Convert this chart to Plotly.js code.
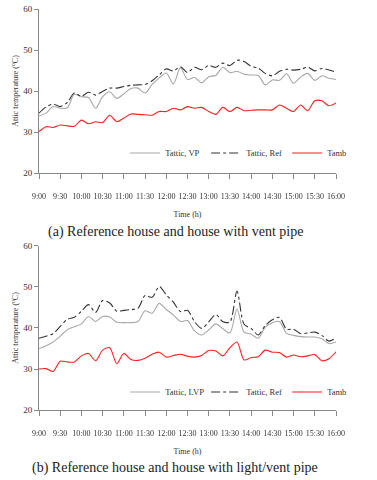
<!DOCTYPE html>
<html>
<head>
<meta charset="utf-8">
<script src="https://cdn.plot.ly/plotly-3.0.1.min.js"></script>
<style>
  html, body { margin: 0; padding: 0; background: #fff; }
  #chart { width: 377px; height: 480px; }
  /* keep small tick text grey (no coloured subpixel fringes) */
  #chart .xtick text, #chart .x2tick text { filter: grayscale(100%); }
</style>
</head>
<body>
<div id="chart"></div>
<script>
// sample times, every 10 minutes
var times = ['9:00','9:10','9:20','9:30','9:40','9:50','10:00','10:10','10:20','10:30','10:40','10:50',
  '11:00','11:10','11:20','11:30','11:40','11:50','12:00','12:10','12:20','12:30','12:40','12:50',
  '13:00','13:10','13:20','13:30','13:40','13:50','14:00','14:10','14:20','14:30','14:40','14:50',
  '15:00','15:10','15:20','15:30','15:40','15:50','16:00'];

var tickLabels = ['9:00','9:30','10:00','10:30','11:00','11:30','12:00','12:30','13:00','13:30',
  '14:00','14:30','15:00','15:30','16:00'];

// (a) reference house vs house with vent pipe
var atticVP = [33.9,34.6,36.2,35.8,35.9,39.2,38.6,38.4,35.8,38.6,39.8,38.2,39.3,40.6,40.7,39.5,
  41.6,43.2,44.4,41.7,45.7,42.8,43.3,42.0,43.5,43.8,45.8,44.5,44.8,44.1,43.9,43.8,41.5,42.7,42.6,
  44.2,41.9,43.4,44.3,42.6,43.7,43.1,42.8];
var atticRefA = [34.6,36.1,36.8,36.2,37.2,39.5,38.7,39.7,39.0,39.9,40.7,40.7,41.1,41.4,41.5,41.6,
  42.5,43.9,45.4,44.9,45.9,44.5,45.8,45.2,46.2,45.8,46.8,46.2,47.5,47.2,46.0,45.6,44.3,43.7,44.8,
  45.3,45.1,45.3,45.8,44.9,45.5,45.1,44.6];
var ambA = [30.1,31.3,31.1,31.7,31.5,31.4,32.9,32.0,32.5,32.3,34.1,32.5,33.4,34.4,34.3,34.2,
  34.1,35.0,35.0,35.8,35.4,36.2,35.8,36.0,35.0,34.3,36.0,35.0,36.0,35.2,35.3,35.4,35.4,35.4,36.6,
  35.8,35.0,36.6,35.2,37.6,37.6,36.4,37.1];

// (b) reference house vs house with light/vent pipe
var atticLVP = [35.0,35.7,36.6,38.0,39.6,40.3,41.0,42.8,41.6,42.8,42.7,41.4,41.3,41.3,41.6,44.2,
  43.6,46.0,44.5,43.2,41.6,41.8,39.3,38.3,39.5,41.0,39.8,38.8,44.6,39.0,38.5,37.5,40.2,41.3,41.6,
  38.7,38.2,37.9,37.8,37.8,37.4,36.2,36.6];
var atticRefB = [37.5,38.0,38.6,40.4,42.1,42.6,44.1,45.7,43.8,46.7,46.1,44.1,44.3,44.5,44.8,47.9,
  47.5,50.1,48.1,46.3,44.0,44.3,41.5,39.9,41.5,43.3,41.5,41.5,49.0,40.9,39.9,38.3,40.6,42.0,42.6,
  39.7,39.7,38.6,38.8,39.0,38.2,36.8,37.6];
var ambB = [30.0,30.1,29.4,31.9,31.7,31.7,33.2,33.8,32.0,34.6,35.2,31.3,33.8,32.3,32.1,32.6,
  33.6,34.1,32.9,33.3,33.6,33.1,32.9,33.3,34.5,34.4,33.2,35.2,36.6,32.2,32.8,33.0,34.6,34.1,34.0,
  32.9,33.4,33.0,33.2,33.5,32.0,32.5,34.2];

var SERIF = 'Liberation Serif, Times New Roman, serif';
var grey = '#a8a8a8', dark = '#333', red = '#ff2020';

function line(x, y, name, color, dash, xa, ya, leg) {
  return {
    x: x, y: y, name: name, type: 'scatter', mode: 'lines',
    line: { color: color, width: 1.1, dash: dash, shape: 'spline', smoothing: 0.8 },
    xaxis: xa, yaxis: ya, legend: leg
  };
}

var data = [
  line(times, atticVP, 'Tattic, VP', grey, 'solid', 'x', 'y', 'legend'),
  line(times, atticRefA, 'Tattic, Ref', dark, 'dashdot', 'x', 'y', 'legend'),
  line(times, ambA, 'Tamb', red, 'solid', 'x', 'y', 'legend'),
  line(times, atticLVP, 'Tattic, LVP', grey, 'solid', 'x2', 'y2', 'legend2'),
  line(times, atticRefB, 'Tattic, Ref', dark, 'dashdot', 'x2', 'y2', 'legend2'),
  line(times, ambB, 'Tamb', red, 'solid', 'x2', 'y2', 'legend2')
];

// labels sit well below the axis in the original, so push them down one line
var tickText = tickLabels.map(function (t) { return '<br>' + t; });

function xAx(anchor) {
  return {
    anchor: anchor, domain: [0, 1], type: 'category',
    range: [0, times.length - 1],
    tickvals: tickLabels, ticktext: tickText, tickangle: 0,
    showline: true, linecolor: '#888', linewidth: 1,
    ticks: 'outside', ticklen: 5, tickcolor: '#888',
    tickfont: { family: SERIF, size: 8, color: '#333' },
    showgrid: false, zeroline: false,
    title: { text: 'Time (h)', font: { family: SERIF, size: 8, color: '#333' }, standoff: 11 }
  };
}
function yAx(anchor, dom) {
  return {
    anchor: anchor, domain: dom, range: [20, 60], dtick: 10,
    showline: true, linecolor: '#888', linewidth: 1,
    ticks: 'outside', ticklen: 4, tickcolor: '#888',
    tickfont: { family: SERIF, size: 9, color: '#333' },
    showgrid: false, zeroline: false,
    title: { text: 'Attic temperature (<sup>o</sup>C)', font: { family: SERIF, size: 8, color: '#333' }, standoff: 3 }
  };
}

var legendBase = {
  orientation: 'h', xanchor: 'left', yanchor: 'middle',
  bgcolor: 'rgba(0,0,0,0)', font: { family: SERIF, size: 8.5, color: '#333' },
  itemwidth: 30, entrywidthmode: 'pixels', entrywidth: 36
};

var layout = {
  width: 377, height: 480,
  margin: { l: 39, r: 13, t: 9, b: 70 },
  paper_bgcolor: '#fff', plot_bgcolor: '#fff',
  showlegend: true,
  xaxis: xAx('y'), yaxis: yAx('x', [0.591, 1]),
  xaxis2: xAx('y2'), yaxis2: yAx('x2', [0, 0.409]),
  legend: Object.assign({ x: 0.29, y: 0.641 }, legendBase),
  legend2: Object.assign({ x: 0.29, y: 0.045 }, legendBase),
  annotations: [
    { text: '(a) Reference house and house with vent pipe', xref: 'paper', yref: 'paper',
      x: 0.458, y: 0.444, yanchor: 'middle', showarrow: false, font: { family: SERIF, size: 14, color: '#222' } },
    { text: '(b) Reference house and house with light/vent pipe', xref: 'paper', yref: 'paper',
      x: 0.458, y: -0.145, yanchor: 'middle', showarrow: false, font: { family: SERIF, size: 14, color: '#222' } }
  ]
};

Plotly.newPlot('chart', data, layout, { displayModeBar: false, staticPlot: true });
</script>
</body>
</html>
